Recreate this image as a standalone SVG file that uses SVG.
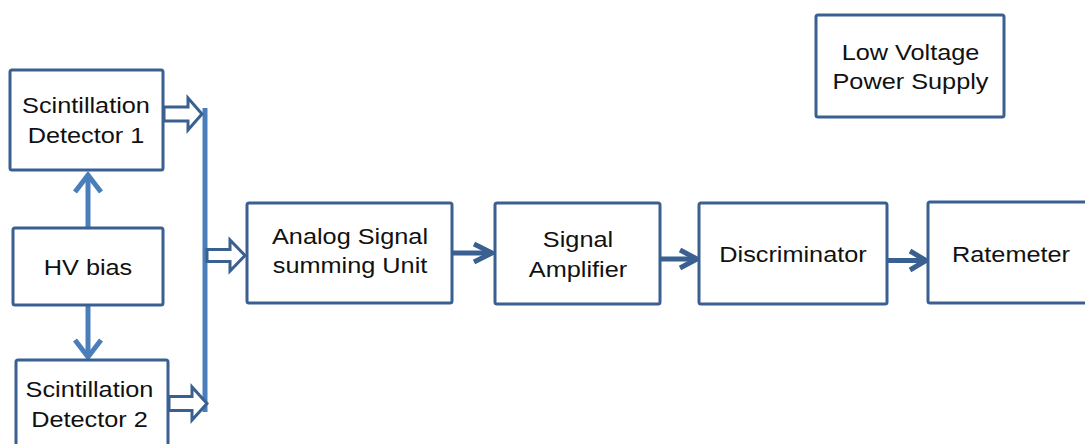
<svg xmlns="http://www.w3.org/2000/svg" width="1085" height="444" viewBox="0 0 1085 444">
  <style>
    .box { fill: #ffffff; stroke: #3a6091; stroke-width: 3; }
    .lbl { font-family: "Liberation Sans", Arial, sans-serif; font-size: 22px; fill: #111111; text-anchor: middle; }
    .bias { fill: none; stroke: #4a7ebb; stroke-width: 5; stroke-linejoin: miter; }
    .flow { fill: none; stroke: #3a6091; stroke-width: 5; stroke-linejoin: miter; }
    .hollow { fill: #ffffff; stroke: #3a6091; stroke-width: 3; stroke-linejoin: miter; }
  </style>
  <rect width="1085" height="444" fill="#ffffff"/>

  <!-- connectors -->
  <g id="connectors">
    <!-- HV bias to detectors -->
    <line class="bias" x1="88" y1="228" x2="88" y2="174"/>
    <polyline class="bias" points="75,192 88,175 101,192"/>
    <line class="bias" x1="88" y1="305" x2="88" y2="356"/>
    <polyline class="bias" points="75,340 88,357 101,340"/>
    <!-- summing bus -->
    <line class="bias" x1="205" y1="108" x2="205" y2="412"/>
    <!-- hollow block arrows onto / off the bus -->
    <polygon class="hollow" points="164,107 188,107 188,98 202,114 188,130 188,121 164,121"/>
    <polygon class="hollow" points="169,396.5 192,396.5 192,387 207,403.5 192,420 192,410.5 169,410.5"/>
    <polygon class="hollow" points="207,249.5 230,249.5 230,240 245,255.5 230,271 230,261.5 207,261.5"/>
    <!-- signal chain -->
    <line class="flow" x1="452" y1="253" x2="491" y2="253"/>
    <polyline class="flow" points="474,244 492,253 474,262"/>
    <line class="flow" x1="660" y1="259" x2="696" y2="259"/>
    <polyline class="flow" points="680,250 697,259 680,268"/>
    <line class="flow" x1="887" y1="260.5" x2="925" y2="260.5"/>
    <polyline class="flow" points="910,251 926,260.5 910,270"/>
  </g>

  <g id="detector1">
    <rect class="box" x="10" y="70" width="153" height="100" rx="2"/>
    <text class="lbl" transform="translate(86,112.5) scale(1.15,1)">Scintillation</text>
    <text class="lbl" transform="translate(86,142.5) scale(1.15,1)">Detector 1</text>
  </g>

  <g id="hv-bias">
    <rect class="box" x="13" y="228" width="150" height="77" rx="2"/>
    <text class="lbl" transform="translate(88,275) scale(1.15,1)">HV bias</text>
  </g>

  <g id="detector2">
    <rect class="box" x="16" y="360" width="152" height="100" rx="2"/>
    <text class="lbl" transform="translate(89.5,396.5) scale(1.15,1)">Scintillation</text>
    <text class="lbl" transform="translate(89.5,426.5) scale(1.15,1)">Detector 2</text>
  </g>

  <g id="summing-unit">
    <rect class="box" x="247" y="203" width="205" height="100" rx="2"/>
    <text class="lbl" transform="translate(350,244) scale(1.15,1)">Analog Signal</text>
    <text class="lbl" transform="translate(350,272.5) scale(1.15,1)">summing Unit</text>
  </g>

  <g id="signal-amplifier">
    <rect class="box" x="495" y="203" width="165" height="101" rx="2"/>
    <text class="lbl" transform="translate(578,246.5) scale(1.15,1)">Signal</text>
    <text class="lbl" transform="translate(578,276.5) scale(1.15,1)">Amplifier</text>
  </g>

  <g id="discriminator">
    <rect class="box" x="699" y="203" width="188" height="101" rx="2"/>
    <text class="lbl" transform="translate(793,261.5) scale(1.15,1)">Discriminator</text>
  </g>

  <g id="ratemeter">
    <rect class="box" x="928" y="202" width="175" height="101" rx="2"/>
    <text class="lbl" transform="translate(1011,261.5) scale(1.15,1)">Ratemeter</text>
  </g>

  <g id="lv-supply">
    <rect class="box" x="816" y="15" width="188" height="102" rx="2"/>
    <text class="lbl" transform="translate(910.5,59.5) scale(1.15,1)">Low Voltage</text>
    <text class="lbl" transform="translate(910.5,88.5) scale(1.15,1)">Power Supply</text>
  </g>
</svg>
